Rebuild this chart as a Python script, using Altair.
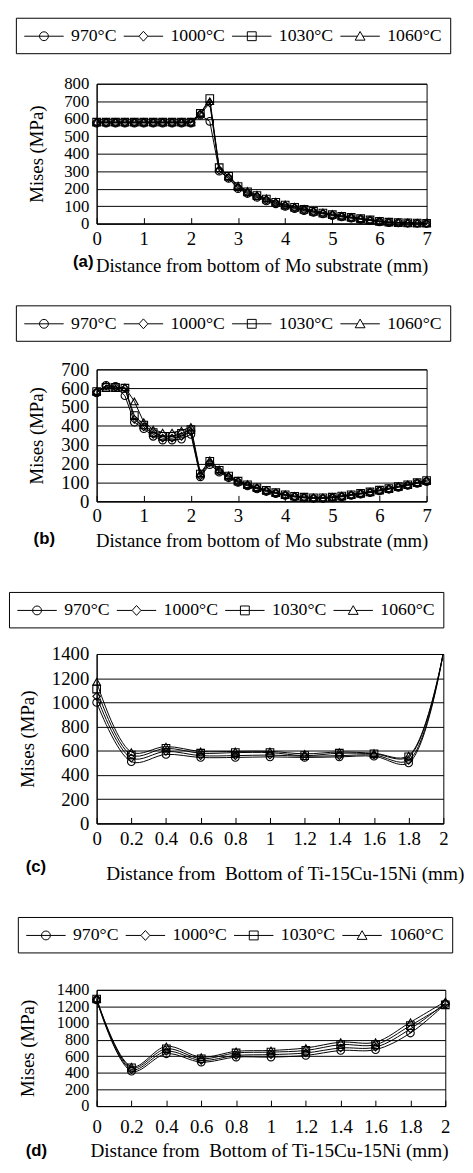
import altair as alt
import pandas as pd

SERIF = "Liberation Serif"
SANS = "Liberation Sans"

SERIES = ["970°C", "1000°C", "1030°C", "1060°C"]
POINT_SHAPES = ["circle", "diamond", "square", "triangle-up"]
# legend glyphs: a short line with the marker in its middle (unit = 10 px)
LEGEND_SYMBOLS = [
    "M-1 0L3 0M1.45 0A0.45 0.45 0 1 1 0.55 0A0.45 0.45 0 1 1 1.45 0",
    "M-1 0L0.55 0M1.45 0L3 0M1 -0.5L1.45 0L1 0.5L0.55 0Z",
    "M-1 0L3 0M0.55 -0.45L1.45 -0.45L1.45 0.45L0.55 0.45Z",
    "M-1 0L0.73 0M1.27 0L3 0M1 -0.48L1.5 0.4L0.5 0.4Z",
]

# ---------- panel (a) ----------
X_MO = [0, 0.2, 0.4, 0.6, 0.8, 1.0, 1.2, 1.4, 1.6, 1.8, 2.0, 2.2, 2.4, 2.6, 2.8, 3.0, 3.2, 3.4,
        3.6, 3.8, 4.0, 4.2, 4.4, 4.6, 4.8, 5.0, 5.2, 5.4, 5.6, 5.8, 6.0, 6.2, 6.4, 6.6, 6.8, 7.0]
A_970 = [575, 575, 575, 575, 575, 575, 575, 575, 575, 575, 575, 620, 585, 300, 258, 200, 172, 150,
         130, 113, 98, 86, 74, 64, 55, 46, 38, 31, 24, 17, 10, 6, 4, 3, 2, 1]
A_1000 = [578, 578, 578, 578, 578, 578, 578, 578, 578, 578, 578, 625, 690, 305, 262, 205, 177, 155,
          135, 117, 102, 90, 78, 67, 58, 49, 40, 33, 26, 19, 12, 7, 5, 3, 2, 1]
A_1030 = [580, 580, 580, 580, 580, 580, 580, 580, 580, 580, 580, 630, 715, 320, 270, 212, 182, 160,
          140, 122, 106, 93, 81, 70, 60, 51, 42, 35, 28, 21, 13, 8, 6, 4, 3, 2]
A_1060 = [582, 582, 582, 582, 582, 582, 582, 582, 582, 582, 582, 632, 700, 315, 272, 218, 187, 165,
          145, 126, 110, 97, 85, 74, 64, 55, 46, 38, 30, 23, 15, 10, 7, 5, 4, 3]

# ---------- panel (b) ----------
B_970 = [575, 615, 610, 560, 420, 385, 345, 325, 325, 330, 355, 130, 195, 155, 125, 100, 82, 66,
         52, 41, 31, 23, 18, 15, 15, 18, 24, 31, 38, 46, 55, 64, 74, 84, 95, 105]
B_1000 = [580, 612, 607, 600, 435, 395, 355, 335, 335, 345, 370, 135, 205, 160, 130, 103, 85, 69,
          55, 44, 33, 25, 20, 17, 17, 20, 26, 33, 40, 48, 57, 66, 76, 86, 97, 108]
B_1030 = [582, 605, 605, 600, 455, 405, 365, 345, 345, 360, 380, 145, 212, 165, 134, 107, 88, 72,
          58, 46, 35, 27, 22, 19, 19, 22, 28, 35, 42, 50, 59, 68, 78, 88, 99, 110]
B_1060 = [585, 600, 600, 605, 530, 420, 380, 365, 365, 375, 395, 150, 218, 170, 138, 110, 91, 75,
          60, 48, 37, 29, 24, 21, 21, 24, 30, 37, 44, 52, 61, 70, 80, 90, 101, 112]

# ---------- panels (c), (d) ----------
X_TI = [0, 0.2, 0.4, 0.6, 0.8, 1.0, 1.2, 1.4, 1.6, 1.8, 2.0]
C_970 = [1000, 510, 570, 545, 545, 550, 545, 550, 555, 500, 1410]
C_1000 = [1050, 540, 595, 560, 560, 565, 555, 560, 565, 520, 1410]
C_1030 = [1110, 565, 620, 580, 585, 585, 560, 580, 575, 550, 1410]
C_1060 = [1170, 590, 635, 595, 595, 595, 575, 590, 580, 560, 1410]

D_970 = [1280, 420, 630, 530, 590, 590, 610, 670, 680, 880, 1230]
D_1000 = [1285, 440, 660, 550, 610, 620, 640, 700, 710, 930, 1240]
D_1030 = [1290, 460, 690, 570, 640, 650, 670, 740, 740, 970, 1220]
D_1060 = [1295, 475, 720, 590, 660, 670, 700, 770, 770, 1010, 1260]

TICKS_MO = [0, 1, 2, 3, 4, 5, 6, 7]
TICKS_TI = [0, 0.2, 0.4, 0.6, 0.8, 1.0, 1.2, 1.4, 1.6, 1.8, 2.0]
YT_A = [0, 100, 200, 300, 400, 500, 600, 700, 800]
YT_B = [0, 100, 200, 300, 400, 500, 600, 700]
YT_CD = [0, 200, 400, 600, 800, 1000, 1200, 1400]
TITLE_MO = "Distance from bottom of Mo substrate (mm)"
TITLE_TI = "Distance from\u00a0 Bottom of Ti-15Cu-15Ni (mm)"
Y_TITLE = "Mises (MPa)"


def panel(xs, series_vals, xdom, xticks, ydom, yticks, w, h, interp, legx, legy,
          label, label_dx, label_off, xtitle, label_pad, title_pad, title_x=None,
          point_xmax=None, title_size=19, ylabel_size=19, ytitle_pad=14):
    rows = []
    for s, ys in zip(SERIES, series_vals):
        for x, y in zip(xs, ys):
            rows.append({"x": x, "y": y, "series": s})
    df = pd.DataFrame(rows)

    xaxis_kw = dict(values=xticks, tickCount=len(xticks), format="~g", title=xtitle,
                    grid=False, tickSize=alt.ExprRef(expr="-6"), labelFlush=False,
                    labelOverlap=False, labelPadding=label_pad, titlePadding=title_pad,
                    labelFont=SERIF, titleFont=SERIF, labelFontSize=19,
                    titleFontSize=title_size)
    if title_x is not None:
        xaxis_kw["titleX"] = title_x
    xaxis = alt.Axis(**xaxis_kw)
    yaxis = alt.Axis(values=yticks, tickCount=len(yticks), format="d", title=Y_TITLE,
                     grid=True, ticks=False, labelOverlap=False, labelPadding=8,
                     titlePadding=ytitle_pad, labelFont=SERIF, titleFont=SERIF,
                     labelFontSize=ylabel_size, titleFontSize=19)
    xs_ = alt.Scale(domain=xdom, nice=False, zero=False)
    ys_ = alt.Scale(domain=ydom, nice=False)

    base = alt.Chart(df)
    line = base.mark_line(color="black", strokeWidth=1, interpolate=interp, clip=True).encode(
        x=alt.X("x:Q", scale=xs_, axis=xaxis),
        y=alt.Y("y:Q", scale=ys_, axis=yaxis),
        detail="series:N",
    )
    pbase = base
    if point_xmax is not None:
        pbase = base.transform_filter(alt.datum.x <= point_xmax)
    pts = pbase.mark_point(filled=False, color="black", size=60, strokeWidth=1.1, opacity=1).encode(
        x="x:Q",
        y="y:Q",
        shape=alt.Shape("series:N", scale=alt.Scale(domain=SERIES, range=POINT_SHAPES),
                        legend=None),
    )
    leg = base.transform_filter("false").mark_point(
        filled=False, color="black", strokeWidth=1, opacity=1).encode(
        x="x:Q",
        y="y:Q",
        shape=alt.Shape(
            "series:N",
            scale=alt.Scale(domain=SERIES, range=LEGEND_SYMBOLS),
            legend=alt.Legend(
                title=None, orient="none", legendX=legx, legendY=legy,
                direction="horizontal", symbolSize=400, symbolStrokeColor="black",
                symbolStrokeWidth=1, symbolFillColor="transparent",
                labelFont=SERIF, labelFontSize=18, labelColor="black", labelOffset=27,
                columnPadding=4, padding=8, strokeColor="black", fillColor="white",
                labelLimit=0,
            ),
        ),
    )
    return alt.layer(line, pts, leg).resolve_scale(shape="independent").properties(
        width=w, height=h,
        title=alt.TitleParams(text=label, orient="bottom", anchor="start", frame="group",
                              font=SANS, fontWeight="bold", fontSize=17, color="black",
                              dx=label_dx, offset=label_off),
    )


pa = panel(X_MO, [A_970, A_1000, A_1030, A_1060], [0, 7], TICKS_MO, [0, 800], YT_A,
           335, 142, "linear", -82, -67, "(a)", -24, -21, TITLE_MO, 12.5, 8,
           ylabel_size=17, ytitle_pad=17)
pb = panel(X_MO, [B_970, B_1000, B_1030, B_1060], [0, 7], TICKS_MO, [0, 700], YT_B,
           335, 134, "linear", -82, -65, "(b)", -64, -19, TITLE_MO, 11.5, 6)
pc = panel(X_TI, [C_970, C_1000, C_1030, C_1060], [0, 2], TICKS_TI, [0, 1400], YT_CD,
           352, 172, "catmull-rom", -89, -63, "(c)", -72, -24, TITLE_TI, 12.5, 16,
           title_x=191, point_xmax=1.9, title_size=19.5)
pd_ = panel(X_TI, [D_970, D_1000, D_1030, D_1060], [0, 2], TICKS_TI, [0, 1400], YT_CD,
            354, 118, "catmull-rom", -80, -74, "(d)", -72, -17, TITLE_TI, 17.5, 6,
            title_x=175, title_size=19.5, ylabel_size=16.5, ytitle_pad=19)

top = alt.vconcat(pa, pb, spacing=29)
bottom = alt.vconcat(pc, pd_, spacing=33)
chart = alt.vconcat(top, bottom, spacing=41).properties(
    padding={"left": 0, "top": 0, "right": 0, "bottom": 0}, background="white"
).configure_view(
    stroke="black", strokeWidth=1
).configure_axis(
    domainColor="black", labelColor="black", titleColor="black", gridColor="black",
    tickColor="black", titleFontWeight="normal", gridWidth=1, domainWidth=1,
)

chart.save("out.html", embed_options={"renderer": "svg", "actions": False, "padding": 0})
